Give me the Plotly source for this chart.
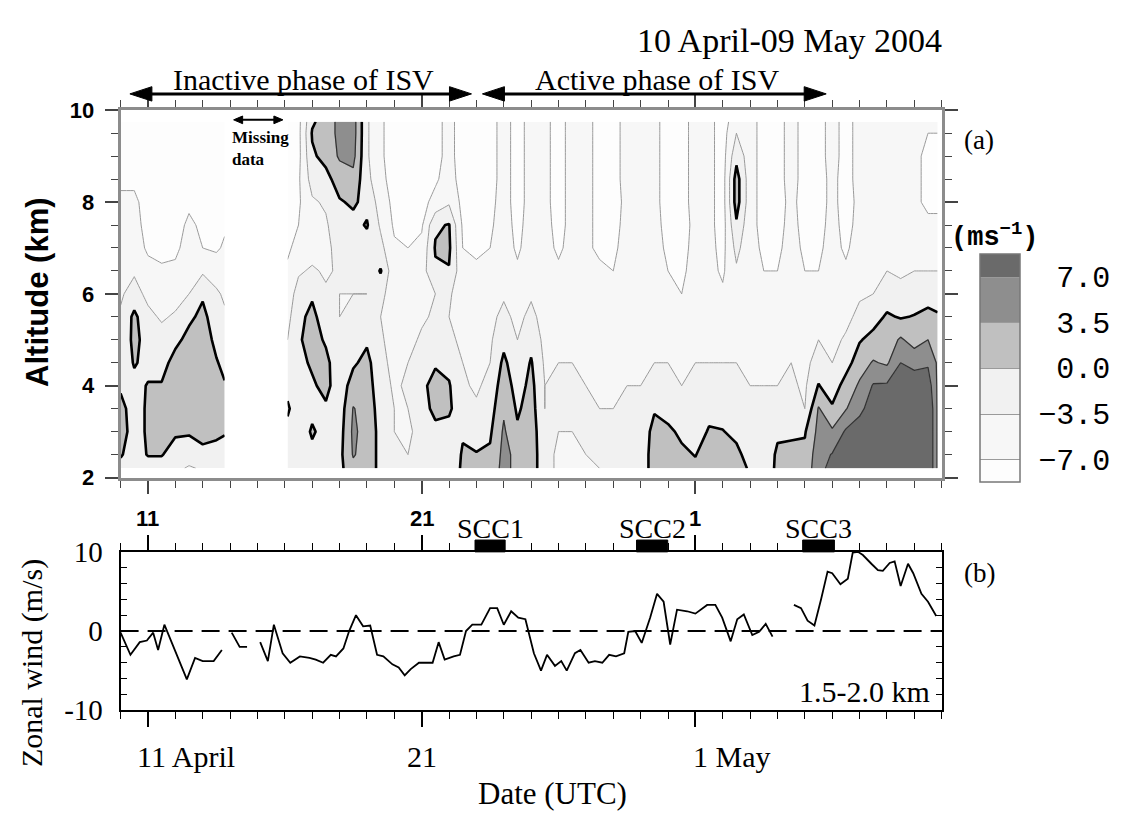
import numpy as np
import pandas as pd
import plotly.graph_objects as go

W, H = 1129, 832
START = pd.Timestamp("2004-04-10 00:00")
END = pd.Timestamp("2004-05-10 00:00")
NDAYS = 30.0


def px(x):
    return x / W


def py(y):
    return 1 - y / H


def to_time(days):
    return [START + pd.Timedelta(days=d) for d in days]


def tstr(d):
    return (START + pd.Timedelta(days=d)).strftime("%Y-%m-%d %H:%M")


# ---------------- Panel (a): zonal wind (m/s) vs date and altitude ----------------
altitudes = [2.2, 2.5, 3.0, 3.5, 4.0, 4.5, 5.0, 5.5, 6.0, 6.5, 7.0, 7.5, 8.0, 8.5, 9.0, 9.5, 9.75]

# days since 10 April 00 UTC, before the missing-data gap
days_seg1 = [0.0, 0.5, 1.0, 1.5, 2.0, 2.5, 3.0, 3.5, 3.8]
# one profile per time (bottom -> top)
wind_seg1 = [
    [-1, 0.3, 1.5, 1.0, -0.5, -2.5, -3, -3, -4, -5, -5.5, -6, -6.5, -7.5, -8, -8, -8],
    [-2, -1.5, -1.5, -1.5, -1, 0.3, 1.0, 0.8, -2, -4, -5.5, -6, -6.5, -7.5, -8.5, -8.5, -8.5],
    [-1.5, 0.2, 0.5, 0.5, 0.2, -1, -1.5, -2.5, -4.5, -6, -7.5, -8, -8, -8, -8.5, -8.5, -8.5],
    [-1.5, 0.2, 1.5, 1.5, 0.3, -1.5, -2, -4, -5, -6.5, -8, -8.5, -8.5, -8.5, -9, -9, -9],
    [-2.5, -1.5, 0.5, 2, 2.5, 1.5, -1, -3, -5, -6.5, -7.5, -8, -8.5, -8.5, -9, -9, -9],
    [-4, -1.5, 0.3, 2, 2.5, 2.5, 1.2, -0.8, -3.5, -5, -6, -6.5, -7.5, -8.5, -9, -9, -9],
    [-3, -0.8, 1.0, 2.5, 3, 2.5, 2, 1.0, -0.5, -4, -7, -7.5, -8, -8.5, -9, -9, -9],
    [-2, -0.5, 0.3, 1.5, 1.5, 0.3, -1, -2, -3, -5, -7.5, -8, -8, -8.5, -9, -9, -9],
    [-2, -1, 0.2, 0.8, 0.3, -1, -2, -3, -4, -5, -6.5, -7.5, -8, -8.5, -9, -9, -9],
]

# days since 10 April 00 UTC, after the missing-data gap
days_seg2 = [6.1, 6.5, 7.0, 7.5, 8.0, 8.5, 9.0, 9.5, 10.0, 10.5, 11.0, 11.5, 12.0, 12.5,
             13.0, 13.5, 14.0, 14.5, 15.0, 15.5, 16.0, 16.5, 17.0, 17.5, 18.0, 18.5, 19.0,
             19.5, 20.0, 20.5, 21.0, 21.5, 22.0, 22.5, 23.0, 23.5, 24.0, 24.5, 25.0, 25.5,
             26.0, 26.5, 27.0, 27.5, 28.0, 28.5, 29.0, 29.5, 29.85]
wind_seg2 = [
    [-3, -2, -1, 0.5, -1, -2.5, -3.5, -4.5, -5.5, -6.5, -7.5, -8, -8, -8.5, -8.5, -8.5, -8.5],
    [-3.5, -3, -2.5, -2, -1.5, -1, -0.5, -1, -2, -4, -6, -7, -7.5, -7.5, -8, -8, -8],
    [-2, -1, 0.5, -1, -0.5, 0.5, 1.5, 1, -0.5, -3, -5, -5.5, -4, -2, -0.5, 0.3, -0.5],
    [-2.5, -2, -1.5, -0.5, 1, 1, -0.5, -2, -3, -4, -4.5, -4, -3, -1, 1, 1.5, 1.5],
    [-1, -1, -1.5, -2, -2, -2.5, -3, -3.5, -3.5, -3, -2, -1, -0.3, 1.5, 4, 4.5, 4.5],
    [2.5, 3.8, 4.2, 3.7, 1.5, -0.5, -2, -3, -3.5, -3, -2, -1, 0.5, 2.5, 4.5, 5, 5],
    [2, 2, 2, 2, 1.5, 1, -0.5, -2.5, -3.5, -3, -1.5, 0.3, -1, -2.5, -3, -3, -3],
    [-1, -1, -1, -1.5, -2, -2.5, -3, -3.5, -2.5, 0.3, -2.5, -4, -5, -6, -6.5, -6.5, -6.5],
    [-2.5, -3, -3.5, -3.5, -4, -4.5, -5, -5.5, -5.5, -6, -6.5, -7.5, -8, -8.5, -8.5, -8.5, -8.5],
    [-3, -3.5, -4, -3.5, -3, -3.5, -4.5, -5, -5.5, -6, -7, -7.5, -8, -8.5, -8.5, -8.5, -8.5],
    [-3, -3, -2.5, -1.5, -1, -2, -3, -4, -4.5, -5, -6, -7.5, -8, -8.5, -8.5, -8.5, -8.5],
    [-3, -2.5, -1, 1, 1.5, -0.5, -2, -3, -3.5, -0.5, 0.3, -0.5, -6, -7.5, -8, -8, -8],
    [-2, -2, -1, 0.5, 0.3, -1, -2.5, -3.5, -3, -0.2, 0.6, 0.2, -4, -5.5, -6, -6, -6],
    [0.5, 0.3, -0.3, -2, -3, -3.5, -4.5, -5, -5.5, -6, -7, -7.5, -8, -8.5, -8.5, -8.5, -8.5],
    [1, 0.2, -1.5, -3, -4, -4.5, -5, -5.5, -6, -6.5, -7.5, -8, -8.5, -8.5, -8.5, -8.5, -8.5],
    [1.5, 0.5, -0.5, -1.5, -2.5, -3.5, -4, -4.5, -5, -6, -7, -7.5, -8, -8.5, -8.5, -8.5, -8.5],
    [4.5, 4.5, 4, 3, 2, 0.8, -1, -2.5, -4, -5, -5.5, -5.5, -5.5, -5.5, -5.5, -5.5, -5.5],
    [2.5, 2.5, 0.5, -0.5, -1.5, -2.5, -3.5, -4.5, -5.5, -6.5, -7.5, -8, -8.5, -8.5, -8.5, -8.5, -8.5],
    [2, 2, 2, 1.5, 1, 0.3, -1, -2.5, -4, -5, -5.5, -5.5, -5.5, -5.5, -5.5, -5.5, -5.5],
    [-2.5, -2.5, -3, -3.5, -3.5, -4, -4.5, -5, -5.5, -6, -6, -6, -6, -6, -6, -6, -6],
    [-4, -4, -3.5, -3, -3, -3.5, -4.5, -5.5, -6, -6.5, -7.5, -8, -8.5, -8.5, -8.5, -8.5, -8.5],
    [-4.5, -4, -3.5, -3, -3, -3.5, -4, -5, -5.5, -6, -6, -6, -5.5, -5.5, -5.5, -5.5, -5.5],
    [-4, -3.5, -3, -3, -3.5, -4, -4.5, -5, -5.5, -6, -6.5, -6, -5.5, -5.5, -5.5, -5.5, -5.5],
    [-3.5, -3, -3, -3.5, -4, -4.5, -5, -5.5, -6, -6.5, -7.5, -8, -8.5, -8.5, -8.5, -8.5, -8.5],
    [-3, -3, -3, -3.5, -4, -4, -4.5, -5, -6, -7, -7.5, -8, -8.5, -8.5, -8.5, -8.5, -8.5],
    [-3, -2.5, -2.5, -3, -3.5, -4, -4.5, -5, -5.5, -6, -6, -6, -6, -5.5, -5.5, -5.5, -5.5],
    [-2, -2, -2, -2.5, -3.5, -4, -4.5, -5, -5.5, -6, -6, -6, -6, -5.5, -5.5, -5.5, -5.5],
    [1.5, 1.5, 1, -0.3, -2, -3.5, -4.5, -5, -5.5, -6, -6, -6, -6, -6, -6, -6, -6],
    [1.5, 1.2, 0.5, -1, -2.5, -3.5, -4.5, -5.5, -6.5, -7, -7.5, -8, -8.5, -8.5, -8.5, -8.5, -8.5],
    [1, 0.5, -0.5, -2, -3.5, -4.5, -5, -6, -7, -7.5, -8, -8.5, -8.5, -8.5, -8.5, -8.5, -8.5],
    [0.5, -0.1, -1.5, -2.5, -3, -3.5, -4.5, -5.5, -6, -6, -6, -6, -5.5, -5.5, -5.5, -5.5, -5.5],
    [1.5, 1.2, 0.3, -1, -2.5, -3.5, -4, -5, -5.5, -6, -6, -6, -6, -6, -6, -6, -6],
    [1.2, 1, 0.1, -1, -2.5, -3.5, -4.5, -5.5, -6.5, -7.5, -8, -8.5, -8.5, -8.5, -8.5, -8.5, -8.5],
    [1, 0.6, -0.6, -2, -3, -3.5, -4, -4.5, -5, -4, -2.5, -0.5, 1.5, 1.5, -1, -3.5, -5],
    [-0.3, -1, -2, -3, -3.5, -4, -4.5, -5, -5.5, -6, -6, -6, -5.5, -5.5, -5.5, -5.5, -5.5],
    [-1.5, -2, -2.5, -3, -3.5, -4, -4.5, -5, -6, -7, -7.5, -8, -8.5, -8.5, -8.5, -8.5, -8.5],
    [0.5, 0.5, -0.5, -2, -3.5, -4, -4.5, -5.5, -6.5, -7, -7.5, -8, -8.5, -8.5, -8.5, -8.5, -8.5],
    [1, 0.8, -0.5, -2, -3, -3.5, -4.5, -5, -5.5, -6, -6, -6, -6, -5.5, -5.5, -5.5, -5.5],
    [1, 0.8, -0.3, -3.5, -4, -4.5, -5, -5.5, -6.5, -7, -7.5, -8, -8.5, -8.5, -8.5, -8.5, -8.5],
    [6, 5.5, 4.5, 3.8, 0.2, -2, -3.5, -5, -6, -7, -7.5, -8, -8.5, -8.5, -8.5, -8.5, -8.5],
    [8, 7.2, 4.0, 0.5, -2, -3.5, -4.5, -5, -5.5, -6, -6, -6, -6, -6, -5.5, -5.5, -5.5],
    [9, 9, 7.5, 3.3, 1.5, -1.5, -3, -4.5, -5.5, -6.5, -7.5, -8, -8.5, -8.5, -8.5, -8.5, -8.5],
    [10, 10, 9, 6, 4, 2, -0.3, -2.5, -4, -5, -5.5, -6, -6, -5.5, -5.5, -5.5, -5.5],
    [11, 11, 10, 9, 7.3, 3.8, 1.2, -1.5, -3.5, -4.5, -5.5, -6, -6, -6, -6, -6, -6],
    [12, 12, 11, 10, 7.5, 3, 1.5, 0.5, -2, -3.5, -4.5, -5.5, -6, -6, -6, -6, -6],
    [12, 12, 12, 11, 9, 7, 4, -0.3, -2.5, -4, -5, -5.5, -6, -6, -6, -6, -6],
    [12, 12, 12, 11, 9, 6, 2, 0.2, -2, -3.5, -5, -6, -6.5, -6.5, -6.5, -6.5, -6.5],
    [11, 11, 11, 11, 9, 6.5, 3.5, 1, -1.5, -3.5, -5, -6.5, -7.5, -7.5, -7.5, -7, -6.5],
    [3, 3, 3, 3, 3, 3, 2, 0.5, -2, -3.5, -5, -6.5, -7.5, -7.5, -7.5, -7, -6.5],
]

contour_levels = [-7.0, -3.5, 0.0, 3.5, 7.0]
band_colors = ["#fdfdfd", "#f7f7f7", "#f1f1f1", "#c0c0c0", "#8e8e8e", "#6a6a6a"]

# ISV phases and missing-data period (days since 10 April)
phase_names = ["Inactive phase of ISV", "Active phase of ISV"]
phase_start = [0.34, 13.22]
phase_end = [12.82, 25.78]
missing_start = 4.13
missing_end = 5.93

# ---------------- Panel (b): zonal wind 1.5-2.0 km ----------------
b_days = [0.0, 0.36, 0.7, 0.96, 1.19, 1.37, 1.6, 2.42, 2.72, 3.0, 3.4, 3.7,
          3.9,
          4.06, 4.35, 4.62,
          4.9,
          5.1, 5.38, 5.6, 5.92, 6.2, 6.55, 6.9, 7.13, 7.4, 7.68, 7.87, 8.14, 8.35, 8.6,
          8.86, 9.12, 9.37, 9.6, 9.93, 10.16, 10.38, 10.6, 10.9, 11.17, 11.4, 11.62,
          11.84, 12.17, 12.4, 12.62, 12.85, 13.18, 13.5, 13.76, 14.0, 14.27, 14.53,
          14.79, 15.1, 15.36, 15.58, 15.87, 16.1, 16.3, 16.6, 16.8, 17.1, 17.33, 17.6,
          17.85, 18.1, 18.4, 18.55, 18.8, 19.04, 19.35, 19.6, 19.84, 20.08, 20.33, 20.5,
          20.7, 21.0, 21.2, 21.43, 21.73, 21.98, 22.29, 22.53, 22.77, 23.08, 23.33,
          23.57, 23.82,
          24.2,
          24.6, 24.86, 25.1, 25.35, 25.6, 25.83, 26.0, 26.3, 26.57, 26.75, 26.94, 27.12,
          27.43, 27.67, 27.85, 28.1, 28.28, 28.5, 28.77, 28.96, 29.26, 29.5, 29.8]
b_wind = [-0.2, -3.0, -1.4, -1.2, -0.2, -2.4, 0.8, -6.1, -3.4, -3.8, -3.8, -2.4,
          None,
          -0.2, -2.0, -2.0,
          None,
          -1.4, -3.8, 0.8, -2.8, -4.0, -3.2, -3.4, -3.6, -4.0, -3.0, -3.2, -2.2, 0.0, 2.0,
          0.6, 0.7, -3.0, -3.2, -4.2, -4.6, -5.6, -4.8, -4.0, -4.0, -4.0, -1.4,
          -3.6, -3.2, -3.0, 0.0, 0.8, 0.8, 2.9, 2.9, 0.8, 2.5, 1.7,
          1.5, -2.8, -5.0, -3.0, -4.4, -3.8, -5.0, -2.8, -2.4, -4.0, -3.8, -4.0,
          -3.0, -3.2, -2.8, -0.1, 0.0, -1.5, 1.7, 4.7, 3.7, -1.7, 2.7, 2.6,
          2.5, 2.2, 2.7, 3.3, 3.3, 1.7, -1.3, 1.5, 2.1, -0.5, -0.1,
          0.9, -0.7,
          None,
          3.3, 2.9, 1.3, 0.7, 4.1, 7.5, 7.3, 5.9, 6.6, 9.9, 10.0, 9.6,
          8.5, 7.7, 7.6, 8.6, 8.8, 5.7, 8.5, 7.3, 4.7, 3.7, 1.9]

scc_names = ["SCC1", "SCC2", "SCC3"]
scc_start = [12.95, 18.85, 24.92]
scc_end = [14.05, 19.99, 26.08]

# ---------------- figure ----------------
SERIF = "Liberation Serif"
SANS = "Liberation Sans"
MONO = "Liberation Mono"

n_bands = len(band_colors)
colorscale = [[i / (n_bands - 1), c] for i, c in enumerate(band_colors)]
cstep = contour_levels[1] - contour_levels[0]
xdom = [px(120.6), px(941.7)]


def xpaper(d):
    # position of a day on the shared date axes, in paper units (for decorations)
    return xdom[0] + d / NDAYS * (xdom[1] - xdom[0])


fig = go.Figure()
for k, (days, prof) in enumerate([(days_seg1, wind_seg1), (days_seg2, wind_seg2)]):
    xt = to_time(days)
    z = np.array(prof, dtype=float).T
    fig.add_trace(go.Contour(
        x=xt, y=altitudes, z=z, xaxis="x", yaxis="y",
        autocontour=False,
        contours=dict(start=contour_levels[0], end=contour_levels[-1], size=cstep, coloring="fill"),
        colorscale=colorscale,
        line=dict(color="#9a9a9a", width=1, smoothing=0),
        showscale=(k == 0),
        colorbar=dict(
            x=px(980), xanchor="left", y=py(366), yanchor="middle",
            len=228, lenmode="pixels", thickness=40, thicknessmode="pixels",
            outlinecolor="#777777", outlinewidth=1.5, xpad=0, ypad=0,
            tickvals=contour_levels,
            ticktext=["\u22127.0", "\u22123.5", "\u00a00.0", "\u00a03.5", "\u00a07.0"],
            tickfont=dict(family=MONO, size=30, color="black"),
            ticks="outside", ticklen=12, tickcolor="rgba(0,0,0,0)",
        ),
        hoverinfo="skip",
    ))
    fig.add_trace(go.Contour(
        x=xt, y=altitudes, z=z, xaxis="x", yaxis="y",
        autocontour=False,
        contours=dict(start=contour_levels[3], end=contour_levels[4], size=cstep, coloring="none"),
        line=dict(color="#333333", width=1.3, smoothing=0),
        showscale=False, hoverinfo="skip",
    ))
    fig.add_trace(go.Contour(
        x=xt, y=altitudes, z=z, xaxis="x", yaxis="y",
        autocontour=False,
        contours=dict(start=0, end=0, size=1, coloring="none"),
        line=dict(color="black", width=2.6, smoothing=0),
        showscale=False, hoverinfo="skip",
    ))

fig.add_trace(go.Scatter(
    x=to_time(b_days), y=b_wind, mode="lines", xaxis="x2", yaxis="y2",
    line=dict(color="black", width=1.8), connectgaps=False, showlegend=False,
    hoverinfo="skip",
))

major_days = ["2004-04-11", "2004-04-21", "2004-05-01"]

common_x = dict(
    type="date", range=[START, END], domain=xdom,
    tickvals=major_days, showticklabels=False,
    ticks="outside", showgrid=False, zeroline=False, showline=True, mirror="ticks",
)
fig.update_layout(
    width=W, height=H, margin=dict(l=0, r=0, t=0, b=0), autosize=False,
    paper_bgcolor="white", plot_bgcolor="white", showlegend=False,
    xaxis=dict(**common_x, anchor="y", ticklen=13, tickwidth=1.5, tickcolor="#444444",
               linecolor="#8c8c8c", linewidth=3,
               minor=dict(dtick=86400000, tick0="2004-04-10", ticks="outside", ticklen=7,
                          tickwidth=1.2, tickcolor="#444444")),
    yaxis=dict(domain=[py(480), py(98)], range=[2, 10], anchor="x",
               tickvals=[2, 4, 6, 8, 10], ticks="outside", ticklen=13, tickwidth=1.5,
               tickcolor="#444444", showline=True, linecolor="#8c8c8c", linewidth=3,
               mirror="ticks", showgrid=False, zeroline=False,
               tickfont=dict(family=SANS, size=22, color="black", weight="bold"),
               ticklabelstandoff=6,
               minor=dict(dtick=0.5, ticks="outside", ticklen=7, tickwidth=1.2,
                          tickcolor="#444444")),
    xaxis2=dict(**common_x, anchor="y2", ticklen=15, tickwidth=1.5, tickcolor="black",
                linecolor="black", linewidth=2,
                minor=dict(dtick=86400000, tick0="2004-04-10", ticks="outside", ticklen=7,
                           tickwidth=1.2, tickcolor="black")),
    yaxis2=dict(domain=[py(722), py(557.3)], range=[-10, 10], anchor="x2",
                tickvals=[-10, 0, 10], ticktext=["-10", "0", "10"],
                ticks="inside", ticklen=9, tickwidth=1.5, tickcolor="black",
                showline=True, linecolor="black", linewidth=2, mirror="ticks",
                showgrid=False, zeroline=False,
                tickfont=dict(family=SERIF, size=29, color="black"),
                ticklabelstandoff=10,
                minor=dict(dtick=2, ticks="inside", ticklen=6, tickwidth=1.2,
                           tickcolor="black")),
)

shapes = [
    dict(type="line", xref="x2 domain", yref="y2", x0=0, x1=1, y0=0, y1=0,
         line=dict(color="black", width=2, dash="18px,9px")),
    # thick zero line in the colour key
    dict(type="line", xref="paper", yref="paper", x0=px(980), x1=px(1020),
         y0=py(366), y1=py(366), line=dict(color="black", width=2.5)),
]
for s0, s1 in zip(scc_start, scc_end):
    shapes.append(dict(type="rect", xref="x2", yref="paper", x0=tstr(s0), x1=tstr(s1),
                       y0=py(557.3), y1=py(545), fillcolor="black",
                       line=dict(color="black", width=1)))


def double_arrow(d0, d1, ypix, head_len, head_half, width):
    xa, xb = xpaper(d0), xpaper(d1)
    hl = head_len / W
    yc = py(ypix)
    hh = head_half / H
    shapes.append(dict(type="line", xref="paper", yref="paper", x0=xa + hl * 0.8,
                       x1=xb - hl * 0.8, y0=yc, y1=yc,
                       line=dict(color="black", width=width)))
    for tip, base in [(xa, xa + hl), (xb, xb - hl)]:
        path = f"M {tip} {yc} L {base} {yc + hh} L {base} {yc - hh} Z"
        shapes.append(dict(type="path", xref="paper", yref="paper", path=path,
                           fillcolor="black", line=dict(color="black", width=1)))


for s0, s1 in zip(phase_start, phase_end):
    double_arrow(s0, s1, 81, 22, 7.5, 3)
double_arrow(missing_start, missing_end, 108, 9, 4, 2)
fig.update_layout(shapes=shapes)

ann = []


def txt(text, x, y, size, family=SERIF, xanchor="center", yanchor="middle", xref="paper",
        yref="paper", bold=False, **kw):
    f = dict(family=family, size=size, color="black")
    if bold:
        f["weight"] = "bold"
    ann.append(dict(text=text, x=x, y=y, xref=xref, yref=yref, xanchor=xanchor,
                    yanchor=yanchor, showarrow=False, font=f, **kw))


txt("10 April-09 May 2004", px(944), py(25), 34, xanchor="right")
for name, s0, s1 in zip(phase_names, phase_start, phase_end):
    txt(name, xpaper((s0 + s1) / 2) + px(3), py(66), 30)
txt("(a)", px(962), py(129), 27, xanchor="left")
txt("(b)", px(962), py(579), 27, xanchor="left")
txt("(ms<sup>\u22121</sup>)", px(995), py(228), 27, family=MONO, bold=True)
txt("Missing<br>data", tstr(4.0), py(138), 17, xref="x", xanchor="left", bold=True,
    align="left")
txt("Altitude (km)", px(38), py(288), 31, family=SANS, bold=True, textangle=-90)
txt("Zonal wind (m/s)", px(32), py(673), 30, textangle=-90)
txt("Date (UTC)", px(552), py(809), 31)
txt("1.5-2.0 km", px(932), py(703), 30, xanchor="right")
for name, s0, s1 in zip(scc_names, scc_start, scc_end):
    txt(name, tstr((s0 + s1) / 2), py(533), 28, xref="x2")
# panel (a) day labels
for d, lab in zip([1, 11, 21], ["11", "21", "1"]):
    txt(lab, tstr(d), py(523), 22, family=SANS, xref="x", bold=True)
# panel (b) date labels
txt("11 April", tstr(1), py(770), 30, xref="x2", xanchor="left", xshift=-13)
txt("21", tstr(11), py(770), 30, xref="x2")
txt("1 May", tstr(21), py(770), 30, xref="x2", xanchor="left", xshift=-4)
fig.update_layout(annotations=ann)

fig.write_html("out.html")
